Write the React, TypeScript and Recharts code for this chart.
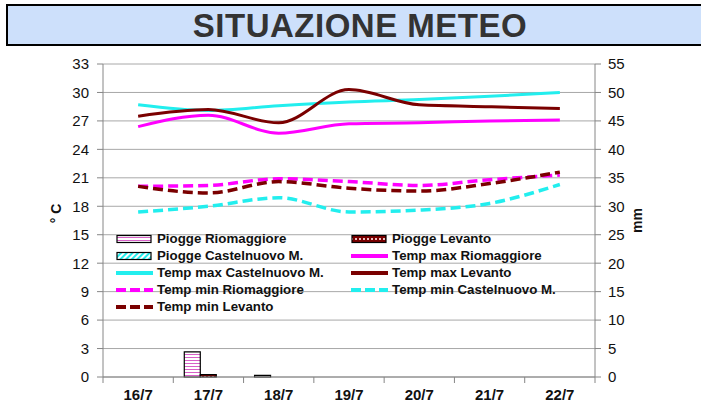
import React from 'react';
import { ComposedChart, Bar, Line, XAxis, YAxis, CartesianGrid, Legend } from 'recharts';

const days = ['16/7', '17/7', '18/7', '19/7', '20/7', '21/7', '22/7'];

// rain, mm (right axis)
const rainRiomaggiore = [0, 4.4, 0.3, 0, 0, 0, 0];
const rainLevanto = [0, 0.4, 0, 0, 0, 0, 0];
const rainCastelnuovo = [0, 0, 0, 0, 0, 0, 0];

// temperatures, °C (left axis)
const tmaxRiomaggiore = [26.4, 27.6, 25.7, 26.7, 26.8, 27.0, 27.1];
const tmaxCastelnuovo = [28.7, 28.1, 28.6, 29.0, 29.25, 29.6, 30.0];
const tmaxLevanto = [27.5, 28.2, 26.8, 30.3, 28.7, 28.5, 28.3];
const tminRiomaggiore = [20.1, 20.2, 20.9, 20.6, 20.2, 20.8, 21.3];
const tminCastelnuovo = [17.4, 18.0, 18.9, 17.4, 17.6, 18.3, 20.3];
const tminLevanto = [20.1, 19.4, 20.6, 19.9, 19.6, 20.4, 21.6];

const leftTicks = [0, 3, 6, 9, 12, 15, 18, 21, 24, 27, 30, 33];
const rightTicks = [0, 5, 10, 15, 20, 25, 30, 35, 40, 45, 50, 55];

const data = days.map((d, i) => ({
  day: d,
  rainRio: rainRiomaggiore[i] || null,
  rainLev: rainLevanto[i] || null,
  rainCas: rainCastelnuovo[i] || null,
  tmaxRio: tmaxRiomaggiore[i],
  tmaxCas: tmaxCastelnuovo[i],
  tmaxLev: tmaxLevanto[i],
  tminRio: tminRiomaggiore[i],
  tminCas: tminCastelnuovo[i],
  tminLev: tminLevanto[i],
}));

const MAGENTA = '#ff00ff';
const CYAN = '#22eeee';
const DARKRED = '#7a0000';
const FONT = '"Liberation Sans", Arial, sans-serif';

type Item = { name: string; kind: 'bar' | 'line'; color: string; fill?: string; dash?: string };

// legend order, row by row in two columns
const legendItems: Item[] = [
  { name: 'Piogge Riomaggiore', kind: 'bar', color: '#000', fill: 'url(#patRio)' },
  { name: 'Piogge Levanto', kind: 'bar', color: '#000', fill: 'url(#patLev)' },
  { name: 'Piogge Castelnuovo M.', kind: 'bar', color: '#000', fill: 'url(#patCas)' },
  { name: 'Temp max Riomaggiore', kind: 'line', color: MAGENTA },
  { name: 'Temp max Castelnuovo M.', kind: 'line', color: CYAN },
  { name: 'Temp max Levanto', kind: 'line', color: DARKRED },
  { name: 'Temp min Riomaggiore', kind: 'line', color: MAGENTA, dash: '10 4' },
  { name: 'Temp min Castelnuovo M.', kind: 'line', color: CYAN, dash: '10 4' },
  { name: 'Temp min Levanto', kind: 'line', color: DARKRED, dash: '10 4' },
];

const LegendBox = () => (
  <div style={{ display: 'grid', gridTemplateColumns: '235px 235px', rowGap: 0, fontFamily: FONT }}>
    {legendItems.map((it) => (
      <div key={it.name} style={{ display: 'flex', alignItems: 'center', height: 17 }}>
        <svg width={38} height={10} style={{ marginRight: 3 }}>
          {it.kind === 'bar' ? (
            <rect x={1} y={1.5} width={34} height={7} fill={it.fill} stroke="#000" strokeWidth={1.2} />
          ) : (
            <line x1={0} x2={37} y1={5} y2={5} stroke={it.color} strokeWidth={4} strokeDasharray={it.dash} />
          )}
        </svg>
        <span style={{ fontSize: 13.3, fontWeight: 'bold', color: '#111', whiteSpace: 'nowrap' }}>{it.name}</span>
      </div>
    ))}
  </div>
);

const XTick = (props: any) => {
  const { x, y, payload, index } = props;
  const off = payload && payload.offset ? payload.offset : 0;
  return (
    <g>
      <line x1={x - off} x2={x - off} y1={y} y2={y + 6} stroke="#868686" />
      {index === days.length - 1 && <line x1={x + off} x2={x + off} y1={y} y2={y + 6} stroke="#868686" />}
      <text x={x} y={y + 23} textAnchor="middle" fontSize={15} fontWeight="bold" fill="#111" fontFamily={FONT}>
        {payload.value}
      </text>
    </g>
  );
};

const axisTitle = (text: string, dx: number, dy: number) => (p: any) => {
  const vb = p.viewBox;
  const cx = vb.x + dx;
  const cy = vb.y + vb.height / 2 + dy;
  return (
    <text x={cx} y={cy} transform={`rotate(-90 ${cx} ${cy})`} textAnchor="middle" fontSize={14} fontWeight="bold" fill="#111" fontFamily={FONT}>
      {text}
    </text>
  );
};

const tickStyle = { fontSize: 15, fill: '#111', fontFamily: FONT };

export default function App() {
  return (
    <div style={{ position: 'absolute', left: 0, top: 0, width: 701, height: 402, background: '#fff', overflow: 'hidden' }}>
      <div
        style={{
          position: 'absolute', left: 6, top: 4, width: 720, height: 38,
          border: '2px solid #000', background: '#cde0fb', boxSizing: 'content-box',
        }}
      >
        <div style={{ width: 704, textAlign: 'center', fontFamily: FONT, fontWeight: 'bold', fontSize: 33, letterSpacing: 0.5, lineHeight: '39px', color: '#333' }}>
          SITUAZIONE METEO
        </div>
      </div>
      <div style={{ position: 'absolute', left: 0, top: 0 }}>
        <ComposedChart width={701} height={402} data={data} margin={{ top: 64, right: 0, bottom: 0, left: 0 }} barGap={0} barSize={16}>
          <defs>
            <pattern id="patRio" width={6} height={3} patternUnits="userSpaceOnUse">
              <rect width={6} height={3} fill="#fff" />
              <rect y={0} width={6} height={1} fill="#d860c8" />
            </pattern>
            <pattern id="patLev" width={4} height={4} patternUnits="userSpaceOnUse">
              <rect width={4} height={4} fill={DARKRED} />
              <rect x={0} y={0} width={2} height={2} fill="#e8c0c0" />
            </pattern>
            <pattern id="patCas" width={4} height={4} patternUnits="userSpaceOnUse" patternTransform="rotate(45)">
              <rect width={4} height={4} fill="#fff" />
              <rect width={2} height={4} fill={CYAN} />
            </pattern>
          </defs>
          <CartesianGrid yAxisId="left" vertical={false} stroke="#a8a8a8" />
          <XAxis dataKey="day" height={25} tick={<XTick />} tickLine={false} tickSize={0} tickMargin={0} axisLine={{ stroke: '#868686' }} interval={0} />
          <YAxis
            yAxisId="left" width={103} domain={[0, 33]} ticks={leftTicks} interval={0}
            tick={tickStyle} tickLine={{ stroke: '#868686' }} tickSize={6} tickMargin={8} axisLine={{ stroke: '#868686' }}
            label={{ content: axisTitle('° C', 61, -7) }}
          />
          <YAxis
            yAxisId="right" orientation="right" width={106} domain={[0, 55]} ticks={rightTicks} interval={0}
            tick={{ ...tickStyle, textAnchor: 'start' }} tickLine={{ stroke: '#868686' }} tickSize={6} tickMargin={7} axisLine={{ stroke: '#868686' }}
            label={{ content: axisTitle('mm', 47, 0) }}
          />
          <Bar yAxisId="right" dataKey="rainRio" name="Piogge Riomaggiore" fill="url(#patRio)" stroke="#000" strokeWidth={1.2} isAnimationActive={false} />
          <Bar yAxisId="right" dataKey="rainLev" name="Piogge Levanto" fill="url(#patLev)" stroke="#000" strokeWidth={1.2} isAnimationActive={false} />
          <Bar yAxisId="right" dataKey="rainCas" name="Piogge Castelnuovo M." fill="url(#patCas)" stroke="#000" strokeWidth={1.2} isAnimationActive={false} />
          <Line yAxisId="left" type="monotone" dataKey="tmaxCas" name="Temp max Castelnuovo M." stroke={CYAN} strokeWidth={3} dot={false} isAnimationActive={false} />
          <Line yAxisId="left" type="monotone" dataKey="tmaxRio" name="Temp max Riomaggiore" stroke={MAGENTA} strokeWidth={3} dot={false} isAnimationActive={false} />
          <Line yAxisId="left" type="monotone" dataKey="tmaxLev" name="Temp max Levanto" stroke={DARKRED} strokeWidth={3} dot={false} isAnimationActive={false} />
          <Line yAxisId="left" type="monotone" dataKey="tminCas" name="Temp min Castelnuovo M." stroke={CYAN} strokeWidth={3.5} strokeDasharray="10 5" dot={false} isAnimationActive={false} />
          <Line yAxisId="left" type="monotone" dataKey="tminRio" name="Temp min Riomaggiore" stroke={MAGENTA} strokeWidth={3.5} strokeDasharray="10 5" dot={false} isAnimationActive={false} />
          <Line yAxisId="left" type="monotone" dataKey="tminLev" name="Temp min Levanto" stroke={DARKRED} strokeWidth={3.5} strokeDasharray="10 5" dot={false} isAnimationActive={false} />
          <Legend
            layout="horizontal" verticalAlign="middle" align="center" content={<LegendBox />}
            wrapperStyle={{ position: 'absolute', left: 116, top: 230, width: 480 }}
          />
        </ComposedChart>
      </div>
    </div>
  );
}
